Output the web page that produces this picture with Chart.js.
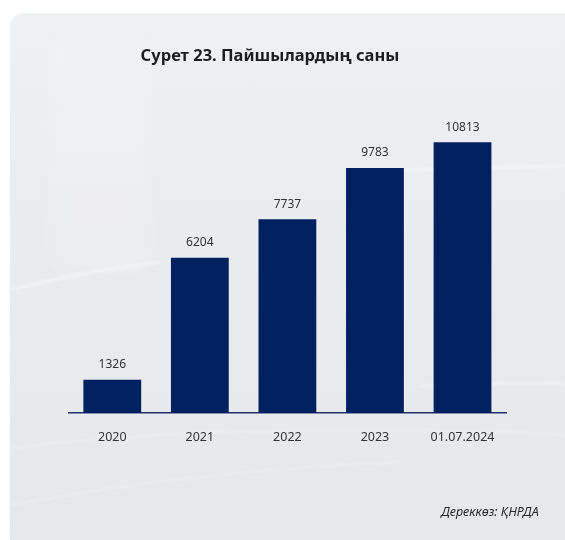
<!DOCTYPE html>
<html>
<head>
<meta charset="utf-8">
<script src="https://cdn.jsdelivr.net/npm/chart.js@4"></script>
<style>
    html, body { margin: 0; padding: 0; background: #fff; }
    body { width: 565px; height: 540px; position: relative; overflow: hidden; font-family: "Noto Sans", sans-serif; }
    .card {
        position: absolute; left: 10px; top: 13px; width: 570px; height: 560px;
        border-radius: 14px;
        background: linear-gradient(180deg, #eef0f3 0%, #eaebef 45%, #e6e7eb 100%);
    }
    .title {
        position: absolute; left: 0; width: 540px; top: 43px; text-align: center;
        font-weight: 700; font-size: 16.5px; color: #1e1e22; line-height: 24px;
    }
    .source {
        position: absolute; right: 26px; top: 503px;
        font-style: italic; font-size: 12.5px; color: #2a2a2a; line-height: 18px;
    }
    #wrap { position: absolute; left: 0; top: 0; width: 565px; height: 540px; }
</style>
</head>
<body>
<div class="card"></div>
<div id="wrap"><canvas id="bars"></canvas></div>
<div class="title">Сурет 23. Пайшылардың саны</div>
<div class="source">Дереккөз: ҚНРДА</div>
<script>
(function () {
    const categories = ["2020", "2021", "2022", "2023", "01.07.2024"];
    const shareholders = [1326, 6204, 7737, 9783, 10813];

    const navy = "#002060";

    // faint light streaks across the card background
    const streaks = {
        id: "streaks",
        beforeDraw(chart) {
            const c = chart.ctx;
            c.save();
            c.filter = "blur(1.5px)";
            c.strokeStyle = "rgba(255, 255, 255, 0.6)";
            c.lineWidth = 2;
            c.beginPath();
            c.moveTo(10, 290);
            c.quadraticCurveTo(80, 272, 160, 262);
            c.stroke();
            c.beginPath();
            c.moveTo(400, 170);
            c.lineTo(565, 166);
            c.stroke();
            c.beginPath();
            c.moveTo(420, 386);
            c.quadraticCurveTo(500, 383, 565, 383);
            c.stroke();
            c.lineWidth = 1.5;
            c.strokeStyle = "rgba(255, 255, 255, 0.45)";
            c.beginPath();
            c.moveTo(10, 448);
            c.quadraticCurveTo(250, 420, 565, 435);
            c.stroke();
            c.beginPath();
            c.moveTo(10, 505);
            c.quadraticCurveTo(200, 470, 400, 462);
            c.stroke();
            c.filter = "blur(10px)";
            c.fillStyle = "rgba(255, 255, 255, 0.15)";
            c.fillRect(50, 30, 100, 240);
            c.restore();
        }
    };

    // value printed above each bar
    const valueLabels = {
        id: "valueLabels",
        afterDatasetsDraw(chart) {
            const c = chart.ctx;
            const meta = chart.getDatasetMeta(0);
            c.save();
            c.font = "12px 'Noto Sans'";
            c.fillStyle = "#333";
            c.textAlign = "center";
            c.textBaseline = "middle";
            meta.data.forEach((bar, i) => {
                c.fillText(String(shareholders[i]), bar.x, bar.y - 15);
            });
            c.restore();
        }
    };

    new Chart(document.getElementById("bars"), {
        type: "bar",
        data: {
            labels: categories,
            datasets: [{
                data: shareholders,
                backgroundColor: navy,
                borderWidth: 0,
                categoryPercentage: 1,
                barPercentage: 0.66,
            }],
        },
        options: {
            responsive: true,
            maintainAspectRatio: false,
            animation: false,
            layout: {
                padding: { left: 68.5, right: 58.7, top: 100, bottom: 0 },
            },
            scales: {
                x: {
                    grid: { display: false },
                    border: { display: true, color: "#23336a", width: 1.5 },
                    ticks: {
                        color: "#333",
                        padding: 9,
                        font: { family: "'Noto Sans'", size: 12.5 },
                        maxRotation: 0,
                        autoSkip: false,
                    },
                    afterFit(scale) {
                        scale.height = 127;
                    },
                },
                y: {
                    display: false,
                    min: 0,
                    max: 12500,
                },
            },
            plugins: {
                legend: { display: false },
                tooltip: { enabled: false },
            },
        },
        plugins: [streaks, valueLabels],
    });
})();
</script>
</body>
</html>
